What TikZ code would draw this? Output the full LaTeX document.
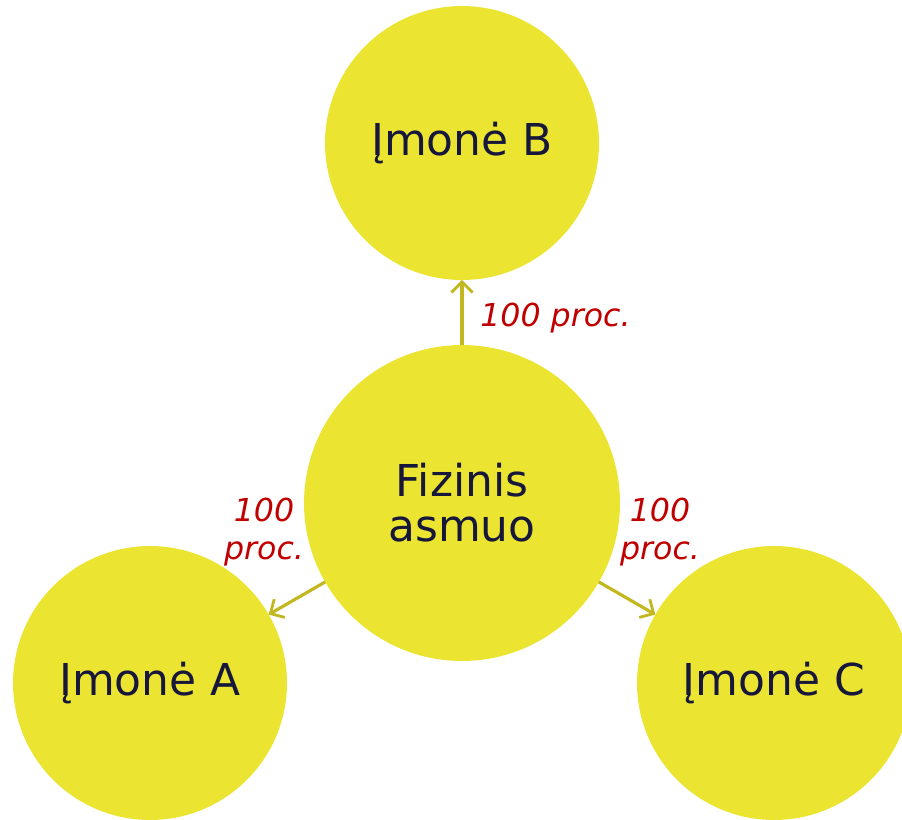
\documentclass[tikz,border=0pt]{standalone}
\usepackage{fontspec}
\setmainfont{DejaVu Sans}
\usetikzlibrary{arrows.meta}
\definecolor{geltona}{HTML}{EBE431}
\definecolor{rodykle}{HTML}{C2B71E}
\definecolor{tamsi}{HTML}{16173A}
\definecolor{raudona}{HTML}{C00000}
\tikzset{
  imone/.style={circle,fill=geltona,minimum size=5.48cm,inner sep=0pt,outer sep=0pt,
    text=tamsi,font=\fontsize{25}{27}\selectfont},
  asmuo/.style={imone,minimum size=6.32cm,align=center,font=\fontsize{25}{25.5}\selectfont},
  rod/.style={draw=rodykle,line width=1.8pt,-{Straight Barb[length=6pt,width=12pt,line width=1.6pt]}},
  dalis/.style={text=raudona,font=\fontsize{18}{22}\selectfont\itshape,align=center,inner sep=0pt}
}
\begin{document}
\begin{tikzpicture}[x=0.02cm,y=-0.02cm]
  %ribos
  \useasboundingbox (0,0) rectangle (902,819);
  \clip (0,0) rectangle (902,819);
  %apskritimai
  \node[asmuo] (fizinis) at (462,503) {Fizinis\\asmuo};
  \node[imone] (imoneB) at (462,143) {Įmonė B};
  \node[imone] (imoneA) at (150,683) {Įmonė A};
  \node[imone] (imoneC) at (774,683) {Įmonė C};
  %rodyklės
  \draw[rod] (fizinis) -- (imoneB);
  \draw[rod] (fizinis) -- (imoneA);
  \draw[rod] (fizinis) -- (imoneC);
  %procentai
  \node[dalis,anchor=west] (dalisB) at (480,318) {100 proc.};
  \node[dalis] (dalisA) at (264,532) {100\\proc.};
  \node[dalis] (dalisC) at (660,532) {100\\proc.};
\end{tikzpicture}
\end{document}
